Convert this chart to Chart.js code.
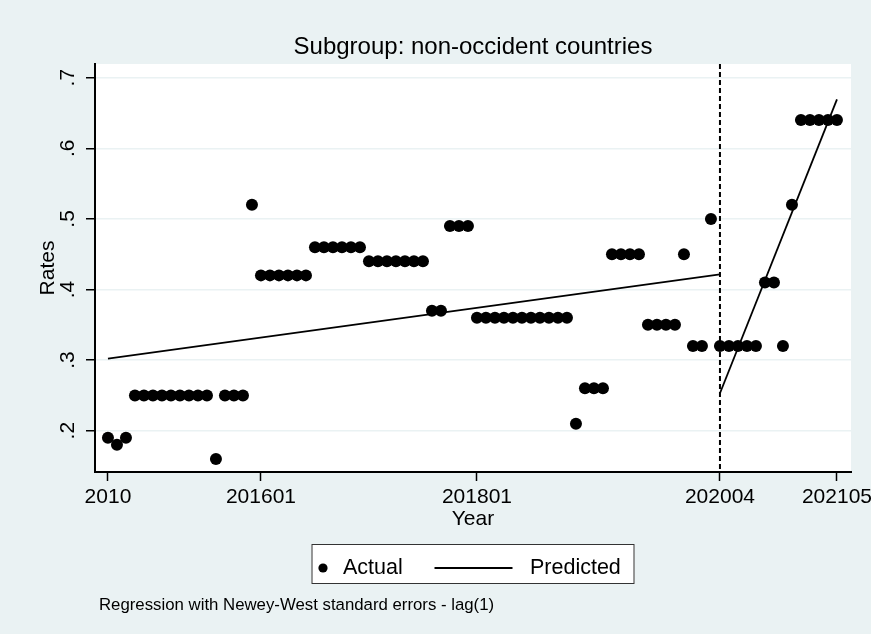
<!DOCTYPE html>
<html><head><meta charset="utf-8">
<script src="https://cdn.jsdelivr.net/npm/chart.js@4.4.1/dist/chart.umd.min.js"></script>
<style>html,body{margin:0;padding:0;background:#EAF2F3;}canvas{display:block;}</style>
</head><body>
<canvas id="c" width="871" height="634"></canvas>
<script>
// ---- data ----
const titleText = 'Subgroup: non-occident countries';
const xTitle = 'Year';
const yTitle = 'Rates';
const noteText = 'Regression with Newey-West standard errors - lag(1)';
// observed rates, one per period (period index = position in array)
const rates = [
  0.19, 0.18, 0.19,
  0.25, 0.25, 0.25, 0.25, 0.25, 0.25, 0.25, 0.25, 0.25,
  0.16,
  0.25, 0.25, 0.25,
  0.52,
  0.42, 0.42, 0.42, 0.42, 0.42, 0.42,
  0.46, 0.46, 0.46, 0.46, 0.46, 0.46,
  0.44, 0.44, 0.44, 0.44, 0.44, 0.44, 0.44,
  0.37, 0.37,
  0.49, 0.49, 0.49,
  0.36, 0.36, 0.36, 0.36, 0.36, 0.36, 0.36, 0.36, 0.36, 0.36, 0.36,
  0.21,
  0.26, 0.26, 0.26,
  0.45, 0.45, 0.45, 0.45,
  0.35, 0.35, 0.35, 0.35,
  0.45,
  0.32, 0.32,
  0.50,
  0.32, 0.32, 0.32, 0.32, 0.32,
  0.41, 0.41,
  0.32,
  0.52,
  0.64, 0.64, 0.64, 0.64, 0.64
];
const xTickIndex = [0, 17, 41, 68, 81];
const xTickLabels = ['2010', '201601', '201801', '202004', '202105'];
const yTickValues = [0.2, 0.3, 0.4, 0.5, 0.6, 0.7];
const breakIndex = 68;
const predictedPre = [{x: 0, y: 0.302}, {x: 68, y: 0.4215}];
const predictedPost = [{x: 68, y: 0.253}, {x: 81, y: 0.6694}];
const seriesLabels = ['Actual', 'Predicted'];

// ---- styling ----
const FONT = '"Liberation Sans", Arial, Helvetica, sans-serif';
const BG = '#EAF2F3';
Chart.defaults.font.family = FONT;
Chart.defaults.color = '#000';

const bgPlugin = {
  id: 'bg',
  beforeDraw(chart) {
    const {ctx, chartArea: a} = chart;
    ctx.save();
    ctx.fillStyle = BG;
    ctx.fillRect(0, 0, chart.width, chart.height);
    ctx.fillStyle = '#fff';
    ctx.fillRect(a.left, a.top, a.right - a.left, a.bottom - a.top);
    ctx.restore();
  }
};

const xlinePlugin = {
  id: 'xline',
  beforeDatasetsDraw(chart) {
    const {ctx, chartArea: a} = chart;
    const px = chart.scales.x.getPixelForValue(breakIndex);
    ctx.save();
    ctx.strokeStyle = '#000';
    ctx.lineWidth = 2;
    ctx.setLineDash([5, 3]);
    ctx.beginPath();
    ctx.moveTo(px, a.top);
    ctx.lineTo(px, a.bottom);
    ctx.stroke();
    ctx.restore();
  }
};

const yLabelPlugin = {
  id: 'ylabels',
  afterDraw(chart) {
    const {ctx} = chart;
    const ys = chart.scales.y;
    ctx.save();
    ctx.font = '21px ' + FONT;
    ctx.fillStyle = '#000';
    ctx.textAlign = 'center';
    ctx.textBaseline = 'middle';
    ys.ticks.forEach(t => {
      const py = ys.getPixelForValue(t.value);
      ctx.save();
      ctx.translate(ys.right - 27, py);
      ctx.rotate(-Math.PI / 2);
      ctx.fillText('.' + Math.round(t.value * 10), 0, 0);
      ctx.restore();
    });
    ctx.restore();
  }
};

const legendNotePlugin = {
  id: 'legendNote',
  afterDraw(chart) {
    const {ctx, chartArea: a} = chart;
    const cx = (a.left + a.right) / 2;
    const w = 323, h = 40, top = 544;
    const left = cx - w / 2;
    const midY = top + h / 2 + 4;
    ctx.save();
    ctx.fillStyle = '#fff';
    ctx.fillRect(left, top, w, h);
    ctx.strokeStyle = '#333';
    ctx.lineWidth = 1;
    ctx.strokeRect(left + 0.5, top + 0.5, w - 1, h - 1);
    // Actual marker
    ctx.fillStyle = '#000';
    ctx.beginPath();
    ctx.arc(left + 11.5, midY, 4.6, 0, Math.PI * 2);
    ctx.fill();
    ctx.font = '21.5px ' + FONT;
    ctx.textBaseline = 'middle';
    ctx.textAlign = 'left';
    ctx.fillText(chart.data.datasets[0].label, left + 31.5, midY);
    // Predicted line
    ctx.strokeStyle = '#000';
    ctx.lineWidth = 2;
    ctx.beginPath();
    ctx.moveTo(left + 123, midY);
    ctx.lineTo(left + 201, midY);
    ctx.stroke();
    ctx.fillText(chart.data.datasets[1].label, left + 218.5, midY);
    // note
    ctx.font = '16.8px ' + FONT;
    ctx.fillText(noteText, 99, 605);
    ctx.restore();
  }
};

new Chart(document.getElementById('c'), {
  type: 'scatter',
  data: {
    datasets: [
      {
        type: 'scatter',
        label: seriesLabels[0],
        data: rates.map((v, i) => ({x: i, y: v})),
        pointRadius: 6,
        pointHoverRadius: 6,
        backgroundColor: '#000',
        borderWidth: 0
      },
      {
        type: 'line',
        label: seriesLabels[1],
        data: predictedPre,
        borderColor: '#000',
        borderWidth: 1.8,
        pointRadius: 0,
        fill: false,
        tension: 0
      },
      {
        type: 'line',
        label: seriesLabels[1],
        data: predictedPost,
        borderColor: '#000',
        borderWidth: 1.8,
        pointRadius: 0,
        fill: false,
        tension: 0
      }
    ]
  },
  options: {
    responsive: false,
    devicePixelRatio: 1,
    animation: false,
    events: [],
    layout: {padding: {left: 0, right: 20, top: 0, bottom: 102}},
    plugins: {
      legend: {display: false},
      tooltip: {enabled: false},
      title: {
        display: true,
        text: titleText,
        fullSize: false,
        color: '#000',
        font: {size: 24, weight: 'normal', family: FONT},
        padding: {top: 32.6, bottom: 2.6}
      }
    },
    scales: {
      x: {
        type: 'linear',
        min: -1.44,
        max: 82.56,
        afterBuildTicks: s => { s.ticks = xTickIndex.map(v => ({value: v})); },
        afterFit: s => { s.height = 60; s.paddingLeft = 0; s.paddingRight = 0; },
        ticks: {
          autoSkip: false,
          maxRotation: 0,
          minRotation: 0,
          padding: 4,
          color: '#000',
          font: {size: 21},
          callback: v => xTickLabels[xTickIndex.indexOf(v)]
        },
        grid: {drawOnChartArea: false, drawTicks: true, tickLength: 9, tickColor: '#000', tickWidth: 1.5},
        border: {color: '#000', width: 2},
        title: {display: true, text: xTitle, color: '#000', font: {size: 21}, padding: {top: 0, bottom: 0}}
      },
      y: {
        type: 'linear',
        min: 0.1415,
        max: 0.7194,
        afterBuildTicks: s => { s.ticks = yTickValues.map(v => ({value: v})); },
        afterFit: s => { s.width = 95; s.paddingTop = 0; s.paddingBottom = 0; },
        ticks: {display: false},
        grid: {color: BG, lineWidth: 1.5, drawTicks: true, tickLength: 9, tickColor: '#000', tickWidth: 1.5},
        border: {color: '#000', width: 2},
        title: {display: true, text: yTitle, color: '#000', font: {size: 21}, padding: {top: 36, bottom: 0}}
      }
    }
  },
  plugins: [bgPlugin, xlinePlugin, yLabelPlugin, legendNotePlugin]
});
</script>
</body></html>
